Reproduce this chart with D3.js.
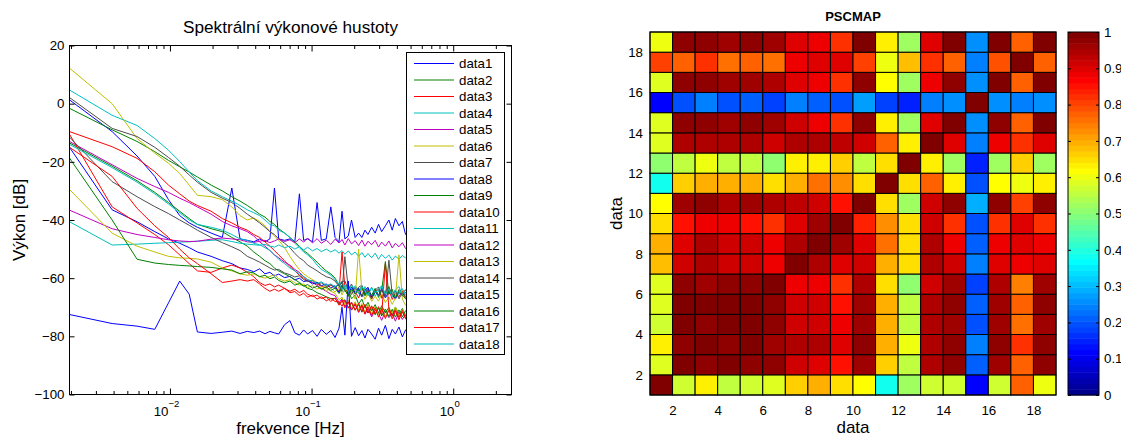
<!DOCTYPE html>
<html>
<head>
<meta charset="utf-8">
<title>PSD a PSCMAP</title>
<script src="https://cdn.jsdelivr.net/npm/d3@7"></script>
<style>
  body { margin: 0; background: #fff; }
  text { font-family: "Liberation Sans", Arial, Helvetica, sans-serif; }
</style>
</head>
<body>
<svg id="fig" width="1121" height="438"></svg>
<script>
// spectrum bins k, frequency = k / nfft (fs = 1 Hz)
const nfft = 512;
const bins = [1,2,3,4,5,6,7,8,10,12, 14,16,18,20,22,24,26,28,30,33, 36,39,42,45,48,52,56,60,65,70,
  75,80,84,88,93,98,104,110,116,122, 128,136,144,152,160,170,180,190,200,212, 224,236,256];

// power spectral density [dB] of each channel at the bins above
const psd01 = [1.3,-9.6,-18,-25,-33,-38.5,-41,-42.5,-44.5,-46, -29,-46.5,-47,-47.5,-46.5,-47.5,-46.5,-29,-46.5,-47,
  -46.5,-47.5,-31,-47,-46.5,-47.5,-34,-47,-46.5,-35.5, -46,-47.5,-37,-46.5,-45.5,-40,-46,-44.5,-46,-43.5,
  -45,-42.5,-44.5,-41.5,-44,-42,-40,-43.5,-39.5,-42, -40.5,-45,-44];
const psd02 = [-1.6,-9,-13,-16.5,-19.5,-21.7,-23.5,-25.2,-28,-30, -32,-33.5,-35,-36.5,-38,-39,-40.5,-41.5,-43,-44.5,
  -46,-47.5,-49,-50.5,-51.5,-53,-54.5,-56,-57.5,-58.5, -60,-62.3,-61.8,-64.6,-63.9,-67.1,-65.8,-68.9,-67.2,-70.1,
  -68.3,-71.2,-69.1,-72,-69.5,-71.9,-70,-72.8,-69.9,-72.5, -70.4,-73,-71.5];
const psd03 = [-9.6,-14.8,-18.8,-23.4,-28,-31,-33.5,-35,-37,-39.5, -41,-42.5,-43.5,-45,-46,-47.5,-49,-50.5,-52,-54,
  -56,-57.5,-59,-60,-61,-61.5,-62,-62.8,-63.2,-62.5, -62.9,-64.8,-51,-63.2,-66.1,-63.9,-64.6,-66.8,-63.4,-65.7,
  -64.1,-67.2,-64.6,-63.8,-66.9,-65.1,-63.9,-67.3,-65,-66.4, -64.3,-67,-65.8];
const psd04 = [4.7,-4,-7.5,-12,-16,-19.9,-23.5,-26.5,-30,-32, -33.5,-35,-36.5,-37.5,-38.5,-40,-41.5,-42,-43.5,-44.5,
  -46,-48,-49.5,-51,-52,-53.5,-55.5,-57,-58,-59, -60.5,-62.4,-61,-63.7,-62.2,-64.9,-62.6,-64.1,-66,-62.9,
  -65.3,-63.1,-66.2,-64.4,-62.8,-65.9,-63.7,-66.4,-64,-62.9, -65.8,-64.1,-65];
const psd05 = [-13,-21,-25.7,-28.5,-30.5,-32.5,-34,-35.5,-38,-40.5, -42,-43,-44,-45.5,-47.5,-49,-50.5,-52,-53,-54.5,
  -55.5,-57,-58,-59.5,-60.5,-61.5,-62.5,-63.5,-64.5,-65.5, -66,-68.4,-67.1,-69.6,-68.2,-70.9,-69.1,-71.8,-69.6,-72.4,
  -70.5,-73.3,-71,-72.2,-74.5,-71.4,-73.6,-72,-74.8,-71.7, -74.2,-72.4,-73];
const psd06 = [12.2,0,-12,-17,-20.5,-24,-28,-31.5,-32,-33, -35.5,-38.5,-40,-39.3,-40.5,-42,-44,-45.5,-47,-49.5,
  -52.5,-55,-57,-58.5,-59.5,-60.5,-61.5,-62.5,-63.5,-64.5, -65.2,-67.4,-66.5,-69.2,-67.4,-70.3,-68.1,-70.9,-68.7,-71.8,
  -69,-72.3,-69.8,-72.6,-70.1,-73.2,-70.4,-72.1,-69.9,-73, -70.8,-72.5,-71.5];
const psd07 = [2.1,-8.5,-11.3,-15,-18.5,-21.5,-24.5,-27,-30.5,-32.5, -34,-36,-38,-39.5,-41,-42.5,-44,-45,-46.5,-48,
  -49.5,-51.5,-53,-54,-55.5,-56.5,-57.5,-58.5,-59.5,-60, -61,-62.8,-61.2,-60.9,-64.1,-62,-65.2,-63.1,-62.4,-65.6,
  -63.5,-66.3,-64.2,-63,-66.5,-64.6,-62.9,-65.8,-66.9,-63.9, -65.2,-64,-65.5];
const psd08 = [-15,-36.5,-40.6,-44,-46.5,-48,-49.5,-51,-52.5,-54, -55,-56.5,-57,-57.8,-56.8,-58.5,-58,-59.2,-58.6,-59.8,
  -59.4,-60.6,-60,-61.2,-60.8,-62,-61.4,-62.6,-62,-63.4, -62.6,-64.9,-62.4,-64.1,-65.9,-63,-65.2,-63.5,-66.4,-64.2,
  -63.1,-66.6,-64.8,-65.9,-63.6,-66.8,-64.7,-65.5,-67.2,-64.9, -66.1,-65,-66];
const psd09 = [-13.5,-21.5,-26.5,-30.5,-34,-37,-39.5,-41.5,-43,-44, -46,-47.5,-49,-51,-52.5,-54,-55,-56.5,-57.5,-58.5,
  -59.5,-60.5,-61.5,-62.5,-63.5,-64,-65,-65.6,-66.4,-67, -67,-68.9,-68.1,-67.4,-70.3,-68.5,-71,-69,-71.7,-69.4,
  -72,-70.1,-72.6,-70.2,-73,-70.6,-73.2,-70.7,-73.4,-70.9, -73.3,-71.2,-72];
const psd10 = [-10.5,-35.5,-41,-45,-48.5,-52,-55,-57.5,-58,-56.5, -55.5,-56.5,-58,-59.5,-61.5,-62.5,-62,-63,-62.4,-63.5,
  -64.5,-63.8,-65,-64.2,-65.5,-66.3,-65.8,-67,-66.5,-68, -66.8,-69.3,-67.5,-70.2,-68.1,-71,-68.7,-71.6,-69.2,-72.3,
  -69.8,-72.8,-70.2,-73.4,-70.5,-73.9,-71,-74,-71.3,-74.3, -71.6,-74,-72.6];
const psd11 = [-40.6,-48.6,-48.3,-48,-47.8,-47.6,-47.5,-47.3,-47,-46.8, -47.4,-48,-48.3,-48.5,-48.7,-48.4,-49,-49.3,-48.6,-49.5,
  -49,-50,-49.2,-50.3,-49.4,-50.6,-49.8,-50.9,-50,-51, -50.2,-51.4,-50.5,-51.8,-50.6,-52,-51,-52.5,-51.2,-52.8,
  -51.5,-53,-51.4,-53.5,-51.8,-53.2,-52,-53.8,-52.4,-53.5, -52.2,-53,-52.5];
const psd12 = [-36.6,-43,-45,-46,-46.8,-47.2,-47.4,-47.3,-46.6,-46.2, -46.5,-46.8,-47.5,-47.7,-47.3,-47,-47.8,-47.2,-46.5,-47.4,
  -46.8,-47.8,-46.5,-47.6,-46.2,-47.9,-46.4,-48,-46.9,-48.4, -46.6,-47.9,-46.7,-48.6,-46.4,-48.2,-47.1,-48.8,-46.9,-49,
  -47.3,-48.5,-47,-49.3,-47.6,-49,-47.2,-49.6,-48,-49.2, -47.8,-49.8,-49];
const psd13 = [-29.5,-44.5,-49,-51,-52.5,-53,-53.2,-53.4,-54.5,-56.5, -57.5,-58.5,-59,-58.5,-59.5,-60,-59.4,-58.8,-60.2,-61,
  -60.5,-61.6,-62.4,-62,-63.2,-62.6,-63.8,-63,-64.4,-63.4, -64.8,-62.9,-65.8,-63.6,-66.4,-64,-67.2,-50,-64.6,-67.3,
  -65.1,-68,-66.2,-67.9,-65.4,-68.4,-66.5,-69,-66.8,-52, -67.2,-69.3,-67.5];
const psd14 = [-11.5,-26.8,-32,-35.4,-37.8,-40,-41.8,-43.5,-46,-47.8, -49.2,-50.5,-52.5,-53.5,-54.5,-55.5,-56.5,-57.2,-57,-58.2,
  -58.8,-59.6,-59.2,-60.5,-61.2,-60.8,-62,-61.6,-62.8,-62.2, -63.5,-61.9,-64.6,-52.6,-63.8,-65.6,-63.2,-64.9,-66.3,-63.7,
  -65.4,-67,-64.1,-65.8,-63.9,-66.7,-53.8,-65.9,-64.2,-67.1, -65,-66.3,-66];
const psd15 = [-72.5,-75.6,-76.5,-77.6,-68.5,-61,-65.5,-78.5,-79,-78.6, -78.2,-79,-78.3,-78.7,-78.2,-79.1,-78.3,-78.8,-79.2,-76,
  -74.6,-78.8,-79.6,-77.8,-79.2,-78,-80,-77.6,-79.3,-78, -80.4,-77.2,-70,-79.6,-61,-80,-77,-79.8,-78,-80.6,
  -77.6,-79.2,-81,-77.2,-79.6,-76.2,-80.8,-77.6,-79.2,-76.8, -80.2,-77.8,-79];
const psd16 = [-18.7,-40,-53.5,-54.8,-55.3,-55.6,-55.8,-56,-56.3,-56.8, -57.2,-58.5,-57.8,-58.2,-59.5,-59,-60.2,-59.6,-60.8,-61.6,
  -61,-62.4,-61.8,-62.8,-62.2,-63.4,-62.8,-63.8,-63,-64.2, -63.4,-65.3,-62.9,-64.1,-66,-63.7,-65.5,-64.2,-62.8,-66.1,
  -64.6,-65.9,-63.5,-66.6,-64.3,-54.3,-65.6,-63.9,-66.8,-64.5, -65.7,-67.1,-65.8];
const psd17 = [-15,-25,-36,-42,-46,-50,-53,-55,-58.5,-61.5, -61,-60.5,-61,-60.5,-62,-63.5,-64.5,-63.8,-64.5,-63.5,
  -65,-64.6,-66,-65.2,-66.5,-65.8,-67.2,-66.4,-67.8,-67, -68,-68.2,-69.7,-67.6,-70.3,-68.2,-71,-68.6,-71.5,-69,
  -72,-69.5,-72.3,-69.8,-72.7,-55,-70.5,-73.1,-70.8,-73.5, -71.1,-73.6,-72];
const psd18 = [-14,-22,-27,-31,-34.5,-37.5,-40,-41.5,-42.5,-43.5, -45,-46.5,-47,-48,-48.5,-49.5,-50.5,-52,-53.5,-55,
  -56.5,-57.5,-58.5,-59.5,-60.5,-61,-61.8,-61.2,-62.5,-62, -63,-61.6,-63.9,-62.3,-64.7,-62.5,-63.6,-65.3,-62.9,-64.4,
  -66,-63.3,-65.1,-63.7,-62.6,-65.4,-63.8,-66.2,-64.1,-65.5, -63.6,-65.8,-65.3];

const psdSeries = [psd01, psd02, psd03, psd04, psd05, psd06, psd07, psd08, psd09,
  psd10, psd11, psd12, psd13, psd14, psd15, psd16, psd17, psd18];
const seriesNames = psdSeries.map((s, i) => 'data' + (i + 1));
const lineColors = ['#0000ff', '#008000', '#ff0000', '#00bfbf', '#bf00bf', '#bfbf00', '#4d4d4d'];

const yTicks = [-100, -80, -60, -40, -20, 0, 20];
const xMajor = [0.01, 0.1, 1];
const xMajorExp = ['\u22122', '\u22121', '0'];

// PSCMAP values, bottom row (data1) first, columns data1..data18
const pscmap = [
  [1.0,0.57,0.625,0.555,0.57,0.579,0.671,0.6875,0.655,0.61,0.39,0.516,0.57,0.57,0.12,0.5625,0.78,0.595],
  [0.579,1.0,0.984,1.0,0.984,0.984,0.92,0.905,0.844,0.968,0.671,0.548,0.945,0.984,0.211,0.968,0.78,0.984],
  [0.625,0.984,1.0,0.984,1.0,0.968,0.9375,0.9375,0.897,0.984,0.6875,0.595,0.953,0.984,0.235,0.984,0.828,0.984],
  [0.5625,1.0,0.984,1.0,1.0,0.984,0.92,0.92,0.875,0.968,0.6875,0.548,0.953,0.968,0.195,0.968,0.757,0.968],
  [0.579,1.0,1.0,1.0,1.0,0.984,0.92,0.92,0.851,0.968,0.6875,0.548,0.953,0.984,0.211,0.968,0.773,0.984],
  [0.579,0.984,0.968,0.984,0.984,1.0,0.89,0.89,0.828,0.9375,0.655,0.5,0.92,0.968,0.172,0.953,0.742,0.968],
  [0.679,0.92,0.9375,0.92,0.92,0.89,1.0,0.953,0.905,0.92,0.703,0.647,0.9375,0.92,0.235,0.897,0.875,0.905],
  [0.6875,0.905,0.9375,0.91,0.92,0.89,0.953,1.0,0.96,0.905,0.75,0.647,0.953,0.89,0.211,0.875,0.905,0.89],
  [0.655,0.851,0.89,0.875,0.851,0.82,0.905,0.968,1.0,0.835,0.725,0.655,0.92,0.828,0.195,0.8125,0.905,0.82],
  [0.61,0.968,0.984,0.953,0.968,0.945,0.93,0.91,0.844,1.0,0.647,0.53,0.92,0.984,0.282,0.984,0.797,0.984],
  [0.39,0.671,0.6875,0.6875,0.6875,0.655,0.703,0.75,0.725,0.647,1.0,0.655,0.78,0.625,0.1875,0.61,0.595,0.625],
  [0.5,0.548,0.595,0.548,0.548,0.5,0.64,0.64,0.663,0.548,0.647,1.0,0.625,0.53,0.156,0.516,0.671,0.53],
  [0.579,0.9375,0.953,0.953,0.953,0.92,0.9375,0.953,0.93,0.92,0.78,0.625,1.0,0.905,0.243,0.89,0.828,0.905],
  [0.579,0.984,0.984,0.968,0.984,0.968,0.92,0.89,0.8125,0.984,0.625,0.53,0.905,1.0,0.258,0.984,0.78,1.0],
  [0.12,0.203,0.235,0.203,0.211,0.172,0.235,0.211,0.195,0.266,0.18,0.156,0.243,0.258,1.0,0.258,0.243,0.258],
  [0.579,0.984,0.984,0.968,0.968,0.953,0.897,0.875,0.8125,0.984,0.61,0.53,0.89,0.984,0.258,1.0,0.78,1.0],
  [0.797,0.78,0.828,0.75,0.78,0.75,0.875,0.905,0.905,0.797,0.595,0.679,0.828,0.78,0.243,0.789,1.0,0.78],
  [0.595,0.984,0.984,0.968,0.984,0.968,0.905,0.89,0.828,1.0,0.625,0.53,0.905,1.0,0.258,1.0,0.78,1.0]
];
const mapTicks = [2, 4, 6, 8, 10, 12, 14, 16, 18];
const cbarTicks = [0, 0.1, 0.2, 0.3, 0.4, 0.5, 0.6, 0.7, 0.8, 0.9, 1];

const FONT = '"Liberation Sans", Arial, Helvetica, sans-serif';

// MATLAB style jet(m) colormap
function jetColors(m) {
    const n = Math.ceil(m / 4);
    const u = [];
    for (let i = 1; i <= n; i++) u.push(i / n);
    for (let i = 1; i < n; i++) u.push(1);
    for (let i = n; i >= 1; i--) u.push(i / n);
    const off = Math.ceil(n / 2) - (m % 4 === 1 ? 1 : 0);
    const cols = d3.range(m).map(() => [0, 0, 0]);
    u.forEach((val, j) => {
        const g = off + j + 1;
        const r = g + n;
        const b = g - n;
        if (g >= 1 && g <= m) cols[g - 1][1] = val;
        if (r >= 1 && r <= m) cols[r - 1][0] = val;
        if (b >= 1 && b <= m) cols[b - 1][2] = val;
    });
    return cols.map(c => d3.rgb(c[0] * 255, c[1] * 255, c[2] * 255).formatHex());
}

function styleAxis(g, size) {
    g.attr('font-family', FONT).attr('font-size', size);
    g.selectAll('text').attr('fill', '#000');
}

class PsdChart {

    constructor(config) {
        this.config = config;
        this.init();
    }

    init() {
        let self = this;
        const c = self.config;
        self.svg = d3.select(c.parent);
        self.xscale = d3.scaleLog().domain([1 / nfft, 2.58]).range([c.left, c.right]);
        self.yscale = d3.scaleLinear().domain([-100, 20]).range([c.bottom, c.top]);
        self.line = d3.line()
            .x(d => self.xscale(d.f))
            .y(d => self.yscale(d.v));
        self.chart = self.svg.append('g');
    }

    render() {
        let self = this;
        const c = self.config;
        const xs = self.xscale, ys = self.yscale;

        self.chart.append('clipPath').attr('id', 'psd-clip')
            .append('rect')
            .attr('x', c.left).attr('y', c.top)
            .attr('width', c.right - c.left).attr('height', c.bottom - c.top);

        const lines = self.chart.append('g').attr('clip-path', 'url(#psd-clip)');
        psdSeries.forEach((vals, i) => {
            const pts = bins.map((k, j) => ({ f: k / nfft, v: vals[j] }));
            lines.append('path')
                .attr('d', self.line(pts))
                .attr('fill', 'none')
                .attr('stroke', lineColors[i % lineColors.length])
                .attr('stroke-width', 1);
        });

        // minor ticks of the log axis
        const [d0, d1] = xs.domain();
        const xMinor = d3.range(-3, 1)
            .flatMap(e => d3.range(2, 10).map(m => m * Math.pow(10, e)))
            .filter(t => t >= d0 && t <= d1);

        const ax = self.chart.append('g');
        ax.append('g').attr('transform', `translate(0,${c.bottom})`)
            .call(d3.axisBottom(xs).tickValues(xMinor).tickSizeInner(-3.5).tickSizeOuter(0).tickFormat(''));
        ax.append('g').attr('transform', `translate(0,${c.top})`)
            .call(d3.axisTop(xs).tickValues(xMinor).tickSizeInner(-3.5).tickSizeOuter(0).tickFormat(''));
        ax.append('g').attr('transform', `translate(0,${c.top})`)
            .call(d3.axisTop(xs).tickValues(xMajor).tickSizeInner(-6).tickSizeOuter(0).tickFormat(''));

        const xb = ax.append('g').attr('transform', `translate(0,${c.bottom})`)
            .call(d3.axisBottom(xs).tickValues(xMajor).tickSizeInner(-6).tickSizeOuter(0).tickFormat(''));
        styleAxis(xb, 13.3);
        xb.selectAll('.tick text').each(function (d, i) {
            const t = d3.select(this).attr('y', 21).attr('dy', null).attr('dx', -4);
            t.append('tspan').text('10');
            t.append('tspan').attr('dy', -9).attr('font-size', 9.5).text(xMajorExp[i]);
        });

        const yl = ax.append('g').attr('transform', `translate(${c.left},0)`)
            .call(d3.axisLeft(ys).tickValues(yTicks).tickSizeInner(-5).tickSizeOuter(0).tickPadding(5));
        styleAxis(yl, 13.3);
        ax.append('g').attr('transform', `translate(${c.right},0)`)
            .call(d3.axisRight(ys).tickValues(yTicks).tickSizeInner(-5).tickSizeOuter(0).tickFormat(''));
        ax.selectAll('.domain').remove();

        self.chart.append('rect')
            .attr('x', c.left).attr('y', c.top)
            .attr('width', c.right - c.left).attr('height', c.bottom - c.top)
            .attr('fill', 'none').attr('stroke', '#000');

        // legend
        const lg = self.chart.append('g');
        lg.append('rect')
            .attr('x', 406.5).attr('y', 52.5).attr('width', 98).attr('height', 302)
            .attr('fill', '#fff').attr('stroke', '#000');
        seriesNames.forEach((name, i) => {
            const yy = 63.5 + i * 16.5;
            lg.append('line')
                .attr('x1', 414).attr('x2', 454).attr('y1', yy).attr('y2', yy)
                .attr('stroke', lineColors[i % lineColors.length]).attr('stroke-width', 1);
            lg.append('text')
                .attr('x', 459).attr('y', yy).attr('dy', '0.35em')
                .style('font-size', '13.3px')
                .text(name);
        });

        self.chart.append('text')
            .attr('x', (c.left + c.right) / 2).attr('y', 33)
            .attr('text-anchor', 'middle').style('font-size', '17.2px')
            .text('Spektrální výkonové hustoty');
        self.chart.append('text')
            .attr('x', (c.left + c.right) / 2).attr('y', 434)
            .attr('text-anchor', 'middle').style('font-size', '17px')
            .text('frekvence [Hz]');
        self.chart.append('text')
            .attr('transform', `translate(25,${(c.top + c.bottom) / 2}) rotate(-90)`)
            .attr('text-anchor', 'middle').style('font-size', '17px')
            .text('Výkon [dB]');
    }
}

class PscMap {

    constructor(config) {
        this.config = config;
        this.init();
    }

    init() {
        let self = this;
        const c = self.config;
        self.svg = d3.select(c.parent);
        self.n = pscmap.length;
        self.xscale = d3.scaleLinear().domain([1, self.n + 1]).range([c.left, c.right]);
        self.yscale = d3.scaleLinear().domain([1, self.n + 1]).range([c.bottom, c.top]);
        self.cscale = d3.scaleLinear().domain([0, 1]).range([c.bottom, c.top]);
        self.colors = jetColors(64);
        self.chart = self.svg.append('g');
    }

    color(v) {
        const m = this.colors.length;
        const idx = Math.max(0, Math.min(m - 1, Math.floor(v * m)));
        return this.colors[idx];
    }

    render() {
        let self = this;
        const c = self.config;
        const xs = self.xscale, ys = self.yscale;

        const cells = [];
        pscmap.forEach((row, r) => row.forEach((v, k) => cells.push({ row: r + 1, col: k + 1, v: v })));

        self.chart.append('g').selectAll('rect')
            .data(cells)
            .join('rect')
            .attr('x', d => xs(d.col))
            .attr('y', d => ys(d.row + 1))
            .attr('width', d => xs(d.col + 1) - xs(d.col))
            .attr('height', d => ys(d.row) - ys(d.row + 1))
            .attr('fill', d => self.color(d.v))
            .attr('stroke', '#000')
            .attr('stroke-width', 1);

        self.chart.append('rect')
            .attr('x', c.left).attr('y', c.top)
            .attr('width', c.right - c.left).attr('height', c.bottom - c.top)
            .attr('fill', 'none').attr('stroke', '#000');

        const xa = self.chart.append('g').attr('transform', `translate(0,${c.bottom})`)
            .call(d3.axisBottom(xs).tickValues(mapTicks).tickSize(0).tickPadding(11));
        const ya = self.chart.append('g').attr('transform', `translate(${c.left},0)`)
            .call(d3.axisLeft(ys).tickValues(mapTicks).tickSize(0).tickPadding(7));
        [xa, ya].forEach(g => { styleAxis(g, 13.3); g.select('.domain').remove(); });

        // colorbar
        const cb = self.chart.append('g');
        const bands = d3.range(self.colors.length);
        cb.selectAll('rect')
            .data(bands)
            .join('rect')
            .attr('x', c.cbLeft)
            .attr('y', i => self.cscale((i + 1) / bands.length))
            .attr('width', c.cbRight - c.cbLeft)
            .attr('height', i => self.cscale(i / bands.length) - self.cscale((i + 1) / bands.length) + 0.5)
            .attr('fill', i => self.colors[i]);
        cb.append('rect')
            .attr('x', c.cbLeft).attr('y', c.top)
            .attr('width', c.cbRight - c.cbLeft).attr('height', c.bottom - c.top)
            .attr('fill', 'none').attr('stroke', '#000');
        const cr = cb.append('g').attr('transform', `translate(${c.cbRight},0)`)
            .call(d3.axisRight(self.cscale).tickValues(cbarTicks).tickSizeInner(-3).tickSizeOuter(0)
                .tickPadding(5).tickFormat(d => String(d)));
        styleAxis(cr, 13.3);
        const cl = cb.append('g').attr('transform', `translate(${c.cbLeft},0)`)
            .call(d3.axisLeft(self.cscale).tickValues(cbarTicks).tickSizeInner(-3).tickSizeOuter(0).tickFormat(''));
        cr.select('.domain').remove();
        cl.select('.domain').remove();

        const cx = (c.left + c.right) / 2;
        self.chart.append('text')
            .attr('x', cx).attr('y', 21)
            .attr('text-anchor', 'middle')
            .style('font-size', '13px').style('font-weight', 'bold')
            .text('PSCMAP');
        self.chart.append('text')
            .attr('x', cx).attr('y', 433)
            .attr('text-anchor', 'middle').style('font-size', '17px')
            .text('data');
        self.chart.append('text')
            .attr('transform', `translate(622,${(c.top + c.bottom) / 2}) rotate(-90)`)
            .attr('text-anchor', 'middle').style('font-size', '17px')
            .text('data');
    }
}

const psdChart = new PsdChart({ parent: '#fig', left: 69.5, right: 511.5, top: 45.5, bottom: 394.5 });
psdChart.render();

const map = new PscMap({ parent: '#fig', left: 650, right: 1056, top: 32, bottom: 395, cbLeft: 1068, cbRight: 1099 });
map.render();
</script>
</body>
</html>
